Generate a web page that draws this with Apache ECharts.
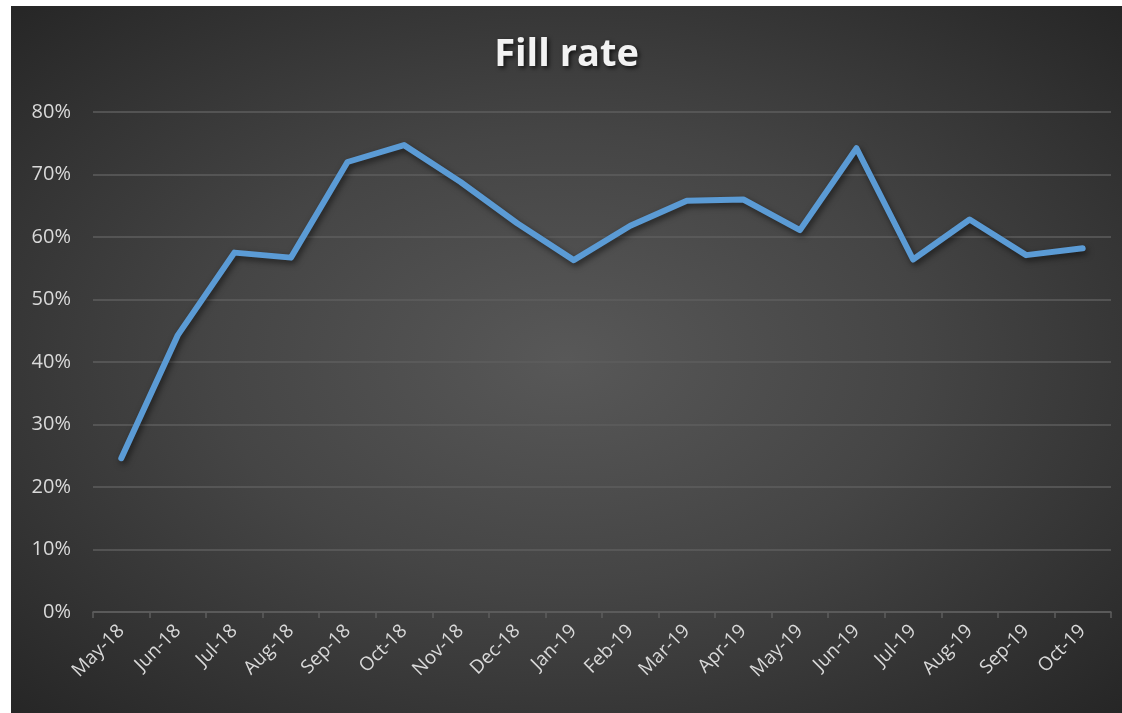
<!DOCTYPE html>
<html>
<head>
<meta charset="utf-8">
<script src="https://cdn.jsdelivr.net/npm/echarts@6/dist/echarts.min.js"></script>
<style>
  html, body { margin: 0; padding: 0; background: #ffffff; overflow: hidden; }
  #chart {
    position: absolute; left: 11px; top: 6px;
    width: 1111px; height: 707px;
    background: radial-gradient(ellipse at 50% 50%, #585858 0%, #454545 45%, #262626 100%);
  }
</style>
</head>
<body>
<div id="chart"></div>
<script>
// months along the x axis
var months = ['May-18', 'Jun-18', 'Jul-18', 'Aug-18', 'Sep-18', 'Oct-18', 'Nov-18', 'Dec-18', 'Jan-19',
  'Feb-19', 'Mar-19', 'Apr-19', 'May-19', 'Jun-19', 'Jul-19', 'Aug-19', 'Sep-19', 'Oct-19'];
// fill rate in %
var fillRate = [24.6, 44.3, 57.5, 56.7, 72.0, 74.7, 68.8, 62.2, 56.3,
  61.8, 65.8, 66.0, 61.1, 74.2, 56.4, 62.8, 57.1, 58.2];

var myChart = echarts.init(document.getElementById('chart'));

var option = {
  backgroundColor: 'transparent',
  title: {
    text: 'Fill rate',
    left: 'center',
    top: 25,
    textStyle: {
      color: '#f2f2f2',
      fontFamily: 'Open Sans',
      fontWeight: 'bold',
      fontSize: 38,
      textShadowColor: 'rgba(0,0,0,0.7)',
      textShadowBlur: 4,
      textShadowOffsetX: 2,
      textShadowOffsetY: 2
    }
  },
  grid: { left: 82, right: 11, top: 106, bottom: 101 },
  xAxis: {
    type: 'category',
    data: months,
    boundaryGap: true,
    axisLine: { lineStyle: { color: '#5e5e5e', width: 1.5 } },
    axisTick: { show: true, length: 6, lineStyle: { color: '#5e5e5e', width: 1.5 } },
    axisLabel: {
      interval: 0,
      rotate: 45,
      color: '#d9d9d9',
      fontFamily: 'Open Sans',
      fontSize: 19,
      margin: 16
    }
  },
  yAxis: {
    type: 'value',
    min: 0,
    max: 80,
    interval: 10,
    axisLine: { show: false },
    axisTick: { show: false },
    axisLabel: {
      formatter: '{value}%',
      color: '#d9d9d9',
      fontFamily: 'Open Sans',
      fontSize: 20,
      margin: 22
    },
    splitLine: { lineStyle: { color: '#5e5e5e', width: 1.5 } }
  },
  series: [
    {
      name: 'Fill rate',
      type: 'line',
      data: fillRate,
      symbol: 'none',
      lineStyle: {
        color: '#5b9bd5',
        width: 6,
        cap: 'round',
        join: 'round',
        shadowColor: 'rgba(0,0,0,0.55)',
        shadowBlur: 6,
        shadowOffsetX: 2,
        shadowOffsetY: 3
      }
    }
  ]
};

myChart.setOption(option);
</script>
</body>
</html>
